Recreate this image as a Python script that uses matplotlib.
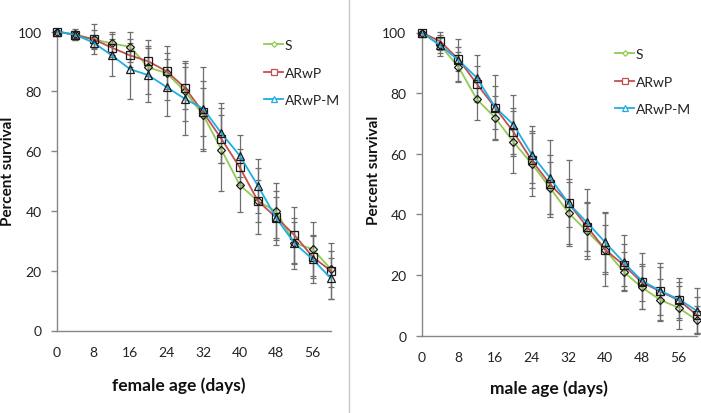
import matplotlib
matplotlib.use("Agg")
import matplotlib.pyplot as plt
from matplotlib.lines import Line2D
import numpy as np

plt.rcParams['font.family'] = ['Lato', 'DejaVu Sans']

days = [0, 4, 8, 12, 16, 20, 24, 28, 32, 36, 40, 44, 48, 52, 56, 60]
xticks = [0, 8, 16, 24, 32, 40, 48, 56]
series_names = ["S", "ARwP", "ARwP-M"]

# female
f_S = [100, 99.0, 97.4, 96.0, 94.9, 88.0, 86.1, 80.0, 72.1, 60.5, 48.7, 43.3, 39.8, 29.2, 27.2, 20.5]
f_R = [100, 98.8, 97.4, 94.6, 92.0, 90.0, 86.7, 81.2, 73.0, 64.1, 54.6, 43.3, 37.8, 31.9, 24.6, 19.9]
f_M = [100, 98.9, 96.3, 92.0, 87.4, 85.4, 81.4, 77.5, 74.2, 66.0, 58.5, 48.4, 37.6, 29.2, 23.8, 17.4]
f_S_err = [0, 2, 5, 4, 5, 9, 9, 10, 11.5, 14, 9, 11, 9.5, 8.5, 9, 6]
f_R_err = [0, 1.5, 3, 3, 4, 5, 6, 7, 8, 8, 6, 7, 7, 9.4, 7, 9.3]
f_M_err = [0, 1, 2, 7, 10, 9, 9.5, 12, 14, 10, 7, 9, 9, 7, 8, 7]

# male
m_S = [100, 95.8, 88.7, 78.0, 71.9, 63.9, 56.7, 48.7, 40.5, 34.5, 28.4, 21.1, 15.9, 11.8, 9.2, 5.1]
m_R = [100, 97.1, 91.2, 83.1, 75.2, 67.2, 57.8, 49.9, 43.7, 36.0, 28.4, 23.3, 17.6, 14.6, 11.7, 6.8]
m_M = [100, 95.8, 90.9, 85.1, 75.4, 69.6, 59.7, 52.0, 43.7, 37.4, 30.8, 24.2, 18.1, 14.8, 12.0, 8.2]
m_S_err = [0, 3.5, 5, 7, 7, 10.3, 10.7, 8.5, 10.3, 9.2, 12.1, 6.5, 7.1, 6.9, 7.1, 4.6]
m_R_err = [0, 3, 4, 6, 7, 8, 9, 9.7, 8, 8, 8, 7, 6, 9.3, 6, 6]
m_M_err = [0, 2.5, 7, 7.6, 10.7, 9.7, 9.3, 12.7, 14.1, 11, 9.9, 9, 9.2, 8, 6.9, 7.4]

colors = ["#92C954", "#C0504D", "#1EAEE6"]
markers = ["D", "s", "^"]
msizes = [4.0, 6.0, 5.5]

W, H = 701, 414
fig = plt.figure(figsize=(W / 100, H / 100), dpi=100)

def fx(px):
    return px / W

def fy(py):
    return 1 - py / H

panels = [
    dict(rect=[fx(57), fy(331.5), fx(331) - fx(57), fy(32.5) - fy(331.5)],
         data=[(f_S, f_S_err), (f_R, f_R_err), (f_M, f_M_err)],
         xlabel="female age (days)", ylab_x=8, ylab_y=171, xlab_x=179, xlab_y=386,
         leg=(264, 40)),
    dict(rect=[fx(421.7), fy(336.7), fx(697) - fx(421.7), fy(33.5) - fy(336.7)],
         data=[(m_S, m_S_err), (m_R, m_R_err), (m_M, m_M_err)],
         xlabel="male age (days)", ylab_x=374, ylab_y=170, xlab_x=549, xlab_y=389,
         leg=(615, 49)),
]

axis_col = "#868686"
for p in panels:
    ax = fig.add_axes(p["rect"])
    for (vals, err) in p["data"]:
        ax.errorbar(days, vals, yerr=err, fmt='none', ecolor="#6e6e6e",
                    elinewidth=0.9, capsize=2.0, capthick=0.9, zorder=2, clip_on=False)
    handles = []
    for (vals, err), c, mk, ms, name in zip(p["data"], colors, markers, msizes, series_names):
        ax.plot(days, vals, color=c, lw=1.3, marker=mk, ms=ms,
                mfc="none", mec="#1a1a1a", mew=0.9, zorder=3, clip_on=False)
        handles.append(Line2D([], [], color=c, lw=1.3, marker=mk, ms=ms * 0.7,
                              mfc="white", mec=c, mew=0.9, label=name))
    ax.set_xlim(0, 60)
    ax.set_ylim(0, 100)
    ax.set_xticks(xticks)
    ax.set_yticks([0, 20, 40, 60, 80, 100])
    ax.tick_params(axis='x', length=0, pad=11, labelsize=10, labelcolor="#222222")
    ax.tick_params(axis='y', length=4, width=1, pad=7, labelsize=10,
                   labelcolor="#222222", color=axis_col, direction='out')
    for s in ["top", "right"]:
        ax.spines[s].set_visible(False)
    for s in ["left", "bottom"]:
        ax.spines[s].set_color(axis_col)
        ax.spines[s].set_linewidth(1)
    ax.patch.set_alpha(0)
    lx, ly = p["leg"]
    leg = fig.legend(handles=handles, loc="upper left",
                     bbox_to_anchor=(fx(lx), fy(ly)), frameon=False,
                     fontsize=10, handlelength=1.4, handletextpad=0.1,
                     labelspacing=1.12, borderpad=0, borderaxespad=0)
    for t in leg.get_texts():
        t.set_color("#222222")
    fig.text(fx(p["ylab_x"]), fy(p["ylab_y"]), "Percent survival", rotation=90,
             ha="center", va="center", fontsize=11, fontweight="bold", color="#111111")
    fig.text(fx(p["xlab_x"]), fy(p["xlab_y"]), p["xlabel"],
             ha="center", va="center", fontsize=12.5, fontweight="bold", color="#111111")

fig.add_artist(Line2D([fx(349), fx(349)], [0, 1], color="#c8c8c8", lw=1,
                      transform=fig.transFigure))

fig.savefig("out.png", dpi=100)
